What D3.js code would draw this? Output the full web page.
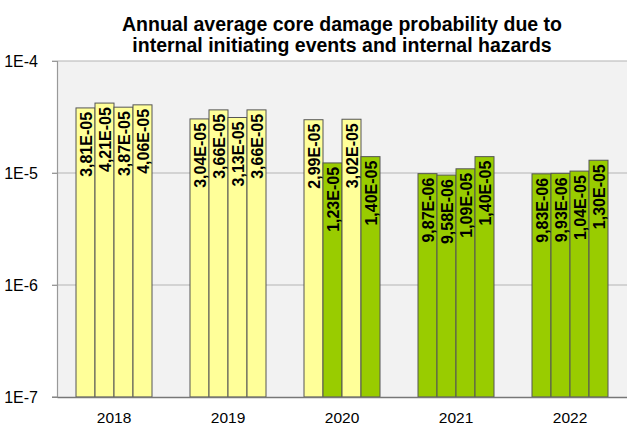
<!DOCTYPE html>
<html><head><meta charset="utf-8">
<script src="https://cdn.jsdelivr.net/npm/d3@7"></script>
<style>body{margin:0;background:#fff;}svg{display:block;font-family:"Liberation Sans",Arial,sans-serif;}</style>
</head><body>
<svg id="c" width="627" height="427"></svg>
<script>
const years = ["2018","2019","2020","2021","2022"];
const units = ["u1","u2","u3","u4"];
const values = [
  [3.81e-5, 4.21e-5, 3.87e-5, 4.06e-5],
  [3.04e-5, 3.66e-5, 3.13e-5, 3.66e-5],
  [2.99e-5, 1.23e-5, 3.02e-5, 1.40e-5],
  [9.87e-6, 9.58e-6, 1.09e-5, 1.40e-5],
  [9.83e-6, 9.93e-6, 1.04e-5, 1.30e-5]
];
const labels = [
  ["3,81E-05","4,21E-05","3,87E-05","4,06E-05"],
  ["3,04E-05","3,66E-05","3,13E-05","3,66E-05"],
  ["2,99E-05","1,23E-05","3,02E-05","1,40E-05"],
  ["9,87E-06","9,58E-06","1,09E-05","1,40E-05"],
  ["9,83E-06","9,93E-06","1,04E-05","1,30E-05"]
];
// 0 = yellow, 1 = green
const kinds = [
  [0,0,0,0],
  [0,0,0,0],
  [0,1,0,1],
  [1,1,1,1],
  [1,1,1,1]
];
const yTicks = [1e-4, 1e-5, 1e-6, 1e-7];
const yTickLabels = ["1E-4","1E-5","1E-6","1E-7"];
const title = ["Annual average core damage probability due to","internal initiating events and internal hazards"];
const colors = ["#ffff99","#99cc00"];

const svg = d3.select("#c");
const L = 57, R = 627, T = 61, B = 397;
const x = d3.scaleBand().domain(years).range([L, R]).padding(0);
const x1 = d3.scaleBand().domain(units).range([x.bandwidth()/6, x.bandwidth()*5/6]).padding(0);
const y = d3.scaleLog().domain([1e-7, 1e-4]).range([B, T]);

svg.append("rect").attr("x", L).attr("y", T).attr("width", R - L).attr("height", B - T).attr("fill", "#f2f2f2");

// gridlines
svg.append("g").selectAll("line").data(yTicks.slice(0,3)).join("line")
  .attr("x1", L - 5).attr("x2", R).attr("y1", d => y(d)).attr("y2", d => y(d))
  .attr("stroke", "#b3b3b3").attr("stroke-width", 1.2);

// left axis
const ya = d3.axisLeft(y).tickValues(yTicks).tickFormat((d,i) => yTickLabels[i]).tickSize(5).tickPadding(14);
const gy = svg.append("g").attr("transform", `translate(${L},0)`).call(ya);
gy.select(".domain").attr("stroke", "#999").attr("stroke-width", 1.2);
gy.selectAll(".tick line").attr("stroke", "#999");
gy.selectAll("text").attr("font-size", 16).attr("fill", "#000").attr("font-family", "Liberation Sans, Arial, sans-serif");

// bars
const groups = svg.append("g").selectAll("g").data(years).join("g")
  .attr("transform", d => `translate(${x(d)},0)`);
groups.each(function(yr, gi) {
  const g = d3.select(this);
  const rows = units.map((u, i) => ({u, v: values[gi][i], lab: labels[gi][i], k: kinds[gi][i]}));
  g.selectAll("rect").data(rows).join("rect")
    .attr("x", d => x1(d.u)).attr("width", x1.bandwidth())
    .attr("y", d => y(d.v)).attr("height", d => B - y(d.v))
    .attr("fill", d => colors[d.k]).attr("stroke", "#555").attr("stroke-width", 1);
  g.selectAll("text").data(rows).join("text")
    .attr("transform", d => `translate(${x1(d.u) + x1.bandwidth()/2 + 1},${y(d.v) + 4}) rotate(-90)`)
    .attr("text-anchor", "end").attr("dominant-baseline", "central")
    .attr("font-size", 16).attr("font-weight", "bold").attr("fill", "#000")
    .text(d => d.lab);
});

// bottom axis
const xa = d3.axisBottom(x).tickSize(0).tickPadding(0);
const gx = svg.append("g").attr("transform", `translate(0,${B})`).call(xa);
gx.select(".domain").attr("stroke", "#777").attr("stroke-width", 1.5);
gx.selectAll("text").attr("font-size", 15.5).attr("fill", "#000").attr("dy", 0).attr("y", 26)
  .attr("font-family", "Liberation Sans, Arial, sans-serif");
svg.append("line").attr("x1", L - 5).attr("x2", L).attr("y1", B).attr("y2", B).attr("stroke", "#777");

// title
svg.append("g").selectAll("text").data(title).join("text")
  .attr("x", (L + R) / 2).attr("y", (d, i) => 31 + i * 21)
  .attr("text-anchor", "middle").attr("font-weight", "bold").attr("font-size", 19.5)
  .attr("fill", "#000").text(d => d);
</script>
</body></html>
